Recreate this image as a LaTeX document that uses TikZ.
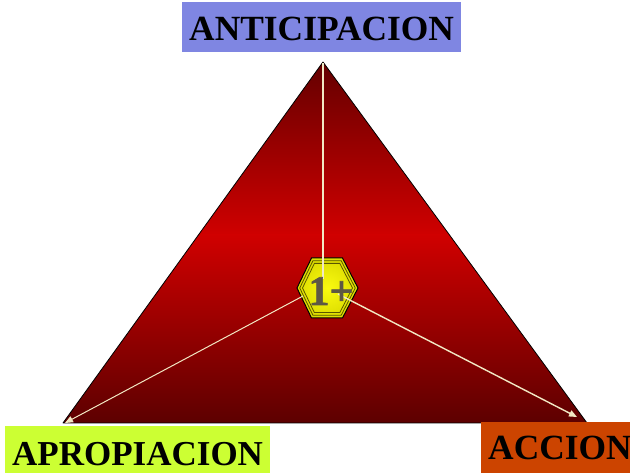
\documentclass[tikz,border=0pt]{standalone}
\usepackage{fontspec}
\setmainfont{Liberation Serif}
\usetikzlibrary{arrows.meta}
\definecolor{tridark}{HTML}{640000}
\definecolor{trired}{HTML}{D00000}
\definecolor{cream}{HTML}{F2E8C4}
\definecolor{boxblue}{HTML}{7F86E2}
\definecolor{boxlime}{HTML}{CCFF33}
\definecolor{boxrust}{HTML}{CC4400}
\definecolor{hexbright}{HTML}{FAFA10}
\definecolor{hexdark}{HTML}{DCDC00}
\definecolor{hexline}{HTML}{5A5600}
\definecolor{hubtext}{HTML}{5E5844}
\tikzset{
  label box/.style={anchor=base west, inner ysep=0pt, inner xsep=7pt, text=black,
    font=\fontsize{35.4}{40}\selectfont\bfseries},
  spoke/.style={draw=cream, line width=1.2pt},
  arrow spoke/.style={spoke, -{Triangle[length=8pt,width=6.5pt]}},
  hexring/.style={draw=hexline, line width=.8pt}
}
\begin{document}
\begin{tikzpicture}[x=1pt,y=-1pt]
\useasboundingbox (0,0) rectangle (630,473);
\clip (0,0) rectangle (630,473);
% triangle corners
\coordinate (apex) at (323,62);
\coordinate (left) at (63,423);
\coordinate (right) at (587,423);
\coordinate (hub) at (327.5,288);
\coordinate (tipT) at (323,63);
\coordinate (tipL) at (65,423);
\coordinate (tipR) at (577,417);
\coordinate (startT) at (323,279);
\coordinate (startL) at (303,296);
\coordinate (startR) at (338,294);
\begin{scope}
  \clip (apex) -- (right) -- (left) -- cycle;
  \shade[top color=tridark, bottom color=trired] (0,62) rectangle (630,236);
  \shade[top color=trired, bottom color=tridark!92!black] (0,235) rectangle (630,424);
\end{scope}
\draw[black, line width=.8pt, line join=round] (apex) -- (right) -- (left) -- cycle;
% hexagon
\begin{scope}[shift={(hub)}]
  \shadedraw[inner color=hexbright, outer color=hexdark, draw=black, line width=1pt]
    (-16,-30) -- (15,-30) -- (30.5,0) -- (15,30) -- (-16,30) -- (-30.5,0) -- cycle;
  \foreach \s in {.91,.82}
    \draw[hexring, scale=\s] (-16,-30) -- (15,-30) -- (30.5,0) -- (15,30) -- (-16,30) -- (-30.5,0) -- cycle;
\end{scope}
% connectors
\draw[spoke] (startT) -- (tipT);
\draw[arrow spoke, line width=1pt] (startL) -- (tipL);
\draw[arrow spoke, line width=1.4pt] (startR) -- (tipR);
\node[anchor=base, inner sep=0pt, text=hubtext, font=\fontsize{42}{44}\selectfont\bfseries\addfontfeature{FakeBold=1.5}] (core) at (331,305) {1+};
% labels
\node[label box, fill=boxblue, text height=39pt, text depth=11pt] (anticipacion) at (182,41) {ANTICIPACION};
\node[label box, fill=boxlime, text height=39pt, text depth=8pt, font=\fontsize{35}{40}\selectfont\bfseries] (apropiacion) at (5,465) {APROPIACION};
\node[label box, fill=boxrust, text height=38pt, text depth=13pt] (accion) at (481,460) {ACCION};
\end{tikzpicture}
\end{document}
